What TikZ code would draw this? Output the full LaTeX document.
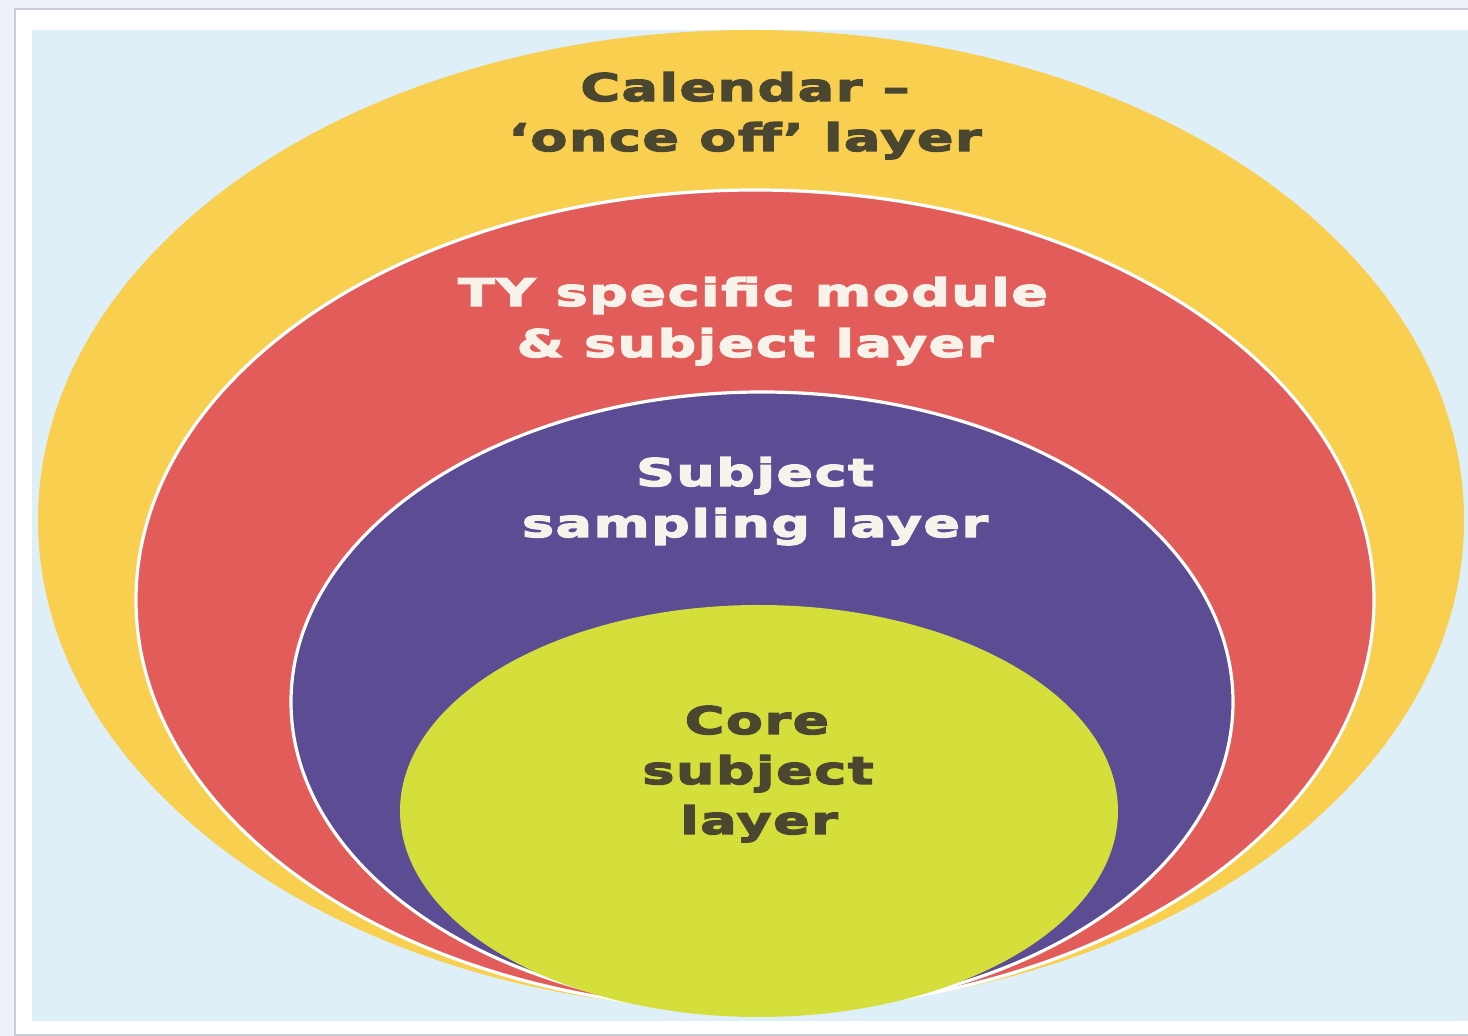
\documentclass[tikz,border=0pt]{standalone}
\usepackage{fontspec}
\newfontfamily\lblfont{DejaVu Sans}[FakeStretch=1.42, LetterSpace=4, BoldFeatures={FakeBold=3.5}]
\definecolor{pagebg}{HTML}{EDF1FA}
\definecolor{framegray}{HTML}{C9CDD8}
\definecolor{skyblue}{HTML}{DFEFF8}
\definecolor{calyellow}{HTML}{F8CF4E}
\definecolor{tyred}{HTML}{E25D59}
\definecolor{samppurple}{HTML}{5B4C94}
\definecolor{coregreen}{HTML}{D5DF3C}
\definecolor{darktext}{HTML}{4A4630}
\definecolor{lighttext}{HTML}{F7F2EA}
\begin{document}
\begin{tikzpicture}[x=0.5pt,y=-0.5pt,
  lbl/.style={font=\lblfont\bfseries\fontsize{19}{22}\selectfont, anchor=base, inner sep=0pt},
  ring/.style={draw=white, line width=1.6pt}]
\useasboundingbox (0,0) rectangle (1468,1036);
\fill[pagebg] (0,0) rectangle (1468,1036);
\fill[framegray] (14,8) rectangle (1468,1036);
\fill[white] (16,10) rectangle (1468,1034);
\fill[skyblue] (32,30) rectangle (1468,1021);
% layers
\fill[calyellow] (751,520) ellipse [x radius=713, y radius=490];
\filldraw[fill=tyred, ring] (755,600) ellipse [x radius=619, y radius=410];
\filldraw[fill=samppurple, ring] (762,702) ellipse [x radius=471, y radius=310];
\fill[coregreen] (759,811) ellipse [x radius=359, y radius=206];
% labels
\node[lbl, text=darktext] (cal1) at (745,101) {Calendar –};
\node[lbl, text=darktext] (cal2) at (745,151) {‘once off’ layer};
\node[lbl, text=lighttext] (ty1) at (753,306) {TY specific module};
\node[lbl, text=lighttext] (ty2) at (755,357) {\& subject layer};
\node[lbl, text=lighttext] (ss1) at (755,486) {Subject};
\node[lbl, text=lighttext] (ss2) at (755,537) {sampling layer};
\node[lbl, text=darktext] (co1) at (757,734) {Core};
\node[lbl, text=darktext] (co2) at (758,784) {subject};
\node[lbl, text=darktext] (co3) at (759,834) {layer};
\end{tikzpicture}
\end{document}
